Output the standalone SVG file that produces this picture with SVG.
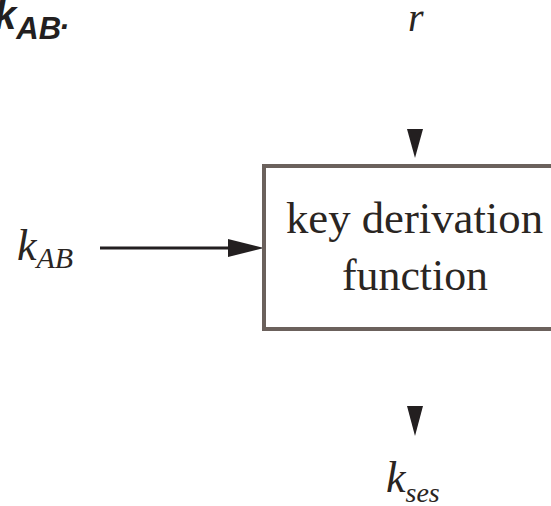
<svg xmlns="http://www.w3.org/2000/svg" width="551" height="506" viewBox="0 0 551 506">
<style>
.serif{font-family:"Liberation Serif","Times New Roman",serif;fill:#2a2522}
.it{font-style:italic}
.box{fill:#ffffff;stroke:#6b615c;stroke-width:4}
.line{stroke:#231f20;stroke-width:3;fill:none}
.head{fill:#231f20}
</style>
<rect width="551" height="506" fill="#ffffff"/>
<g id="title">
<text x="-6" y="29" font-family="Liberation Sans, Arial, sans-serif" font-weight="bold" font-style="italic" font-size="40" fill="#231f20">k<tspan font-size="31" dy="10">AB</tspan><tspan font-size="31" dy="-10">.</tspan></text>
</g>
<g id="connectors">
<line class="line" x1="100" y1="248" x2="232" y2="248"/>
<polygon class="head" points="228,239 264,248 228,257"/>
<polygon class="head" points="407,129 423,129 415,158"/>
<polygon class="head" points="407,406 423,406 415,436"/>
</g>
<g id="kdf">
<rect class="box" x="264" y="166" width="305" height="163"/>
<text class="serif" x="286" y="233" font-size="44" textLength="257" lengthAdjust="spacingAndGlyphs">key derivation</text>
<text class="serif" x="342" y="290" font-size="44" textLength="146" lengthAdjust="spacingAndGlyphs">function</text>
</g>
<g id="r">
<text class="serif it" x="408" y="31" font-size="40">r</text>
</g>
<g id="kAB">
<text class="serif it" x="17" y="260" font-size="44">k<tspan font-size="30" dy="8">AB</tspan></text>
</g>
<g id="kses">
<text class="serif it" x="386" y="492" font-size="44">k<tspan font-size="28" dy="10">ses</tspan></text>
</g>
</svg>
